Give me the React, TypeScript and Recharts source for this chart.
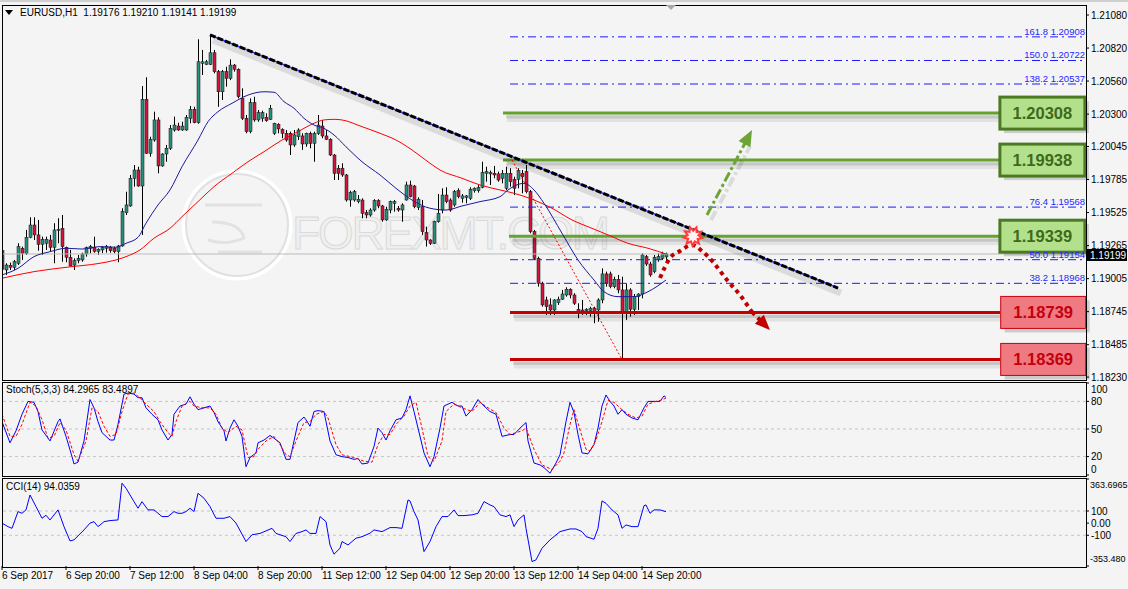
import React from 'react';
import { ComposedChart, Bar, Line, XAxis, YAxis, ReferenceLine, ReferenceDot } from 'recharts';

const FONT = '"Liberation Sans", Arial, Helvetica, sans-serif';
const WIDTH = 1128;
const BULL = '#25907e';
const BEAR = '#d3153d';
const X_DOMAIN: [number, number] = [0, 271];
const PRICE_DOMAIN: [number, number] = [1.18207, 1.21151];
const CCI_DOMAIN: [number, number] = [-353.48, 363.6965];

// EURUSD H1 candles, [open, high, low, close], 6 Sep 04:00 .. 15 Sep 02:00
const ohlc: number[][] = [
  [1.19225, 1.19231, 1.19073, 1.19079], [1.19073, 1.19126, 1.19034, 1.19112], [1.19110, 1.19131, 1.19073, 1.19094],
  [1.19094, 1.19152, 1.19073, 1.19138], [1.19126, 1.19283, 1.19112, 1.19257], [1.19244, 1.19257, 1.19152, 1.19205],
  [1.19205, 1.19388, 1.19191, 1.19330], [1.19330, 1.19488, 1.19323, 1.19427], [1.19427, 1.19488, 1.19309, 1.19349],
  [1.19349, 1.19467, 1.19225, 1.19275], [1.19275, 1.19335, 1.19191, 1.19315], [1.19283, 1.19335, 1.19231, 1.19315],
  [1.19309, 1.19349, 1.19217, 1.19252], [1.19252, 1.19441, 1.19126, 1.19388], [1.19388, 1.19480, 1.19283, 1.19393],
  [1.19401, 1.19506, 1.19138, 1.19257], [1.19252, 1.19257, 1.19134, 1.19173], [1.19173, 1.19231, 1.19099, 1.19105],
  [1.19112, 1.19165, 1.19073, 1.19146], [1.19146, 1.19191, 1.19126, 1.19165], [1.19152, 1.19209, 1.19138, 1.19199],
  [1.19199, 1.19257, 1.19178, 1.19249], [1.19244, 1.19270, 1.19205, 1.19257], [1.19252, 1.19335, 1.19209, 1.19220],
  [1.19220, 1.19244, 1.19191, 1.19236], [1.19231, 1.19262, 1.19205, 1.19252], [1.19244, 1.19270, 1.19209, 1.19257],
  [1.19252, 1.19262, 1.19209, 1.19225], [1.19244, 1.19257, 1.19205, 1.19217], [1.19217, 1.19270, 1.19134, 1.19262],
  [1.19262, 1.19559, 1.19257, 1.19532], [1.19524, 1.19689, 1.19506, 1.19585], [1.19577, 1.19821, 1.19571, 1.19795],
  [1.19795, 1.19899, 1.19729, 1.19860], [1.19860, 1.19886, 1.19729, 1.19734], [1.19734, 1.20521, 1.19349, 1.20417],
  [1.20417, 1.20590, 1.19986, 1.19992], [1.19992, 1.20122, 1.19965, 1.20102], [1.20096, 1.20319, 1.20083, 1.20254],
  [1.20254, 1.20275, 1.19834, 1.19892], [1.19892, 1.19992, 1.19886, 1.19986], [1.19986, 1.20057, 1.19925, 1.20031],
  [1.20031, 1.20214, 1.20018, 1.20188], [1.20175, 1.20280, 1.20162, 1.20214], [1.20206, 1.20232, 1.20169, 1.20175],
  [1.20175, 1.20240, 1.20169, 1.20206], [1.20175, 1.20293, 1.20169, 1.20275], [1.20267, 1.20364, 1.20228, 1.20338],
  [1.20338, 1.20358, 1.20228, 1.20232], [1.20232, 1.20889, 1.20224, 1.20712], [1.20700, 1.20805, 1.20608, 1.20712],
  [1.20692, 1.20726, 1.20686, 1.20712], [1.20692, 1.20923, 1.20686, 1.20783], [1.20783, 1.20805, 1.20621, 1.20634],
  [1.20634, 1.20647, 1.20358, 1.20476], [1.20476, 1.20647, 1.20411, 1.20634], [1.20634, 1.20673, 1.20516, 1.20582],
  [1.20582, 1.20731, 1.20568, 1.20686], [1.20686, 1.20694, 1.20634, 1.20653], [1.20653, 1.20660, 1.20424, 1.20437],
  [1.20424, 1.20503, 1.20254, 1.20267], [1.20267, 1.20293, 1.20149, 1.20162], [1.20162, 1.20424, 1.20149, 1.20390],
  [1.20390, 1.20437, 1.20240, 1.20254], [1.20254, 1.20332, 1.20240, 1.20311], [1.20267, 1.20327, 1.20240, 1.20311],
  [1.20275, 1.20306, 1.20240, 1.20248], [1.20259, 1.20372, 1.20254, 1.20346], [1.20149, 1.20232, 1.20136, 1.20228],
  [1.20220, 1.20228, 1.20149, 1.20183], [1.20180, 1.20188, 1.20110, 1.20149], [1.20149, 1.20175, 1.20083, 1.20096],
  [1.20149, 1.20162, 1.19978, 1.20057], [1.20057, 1.20175, 1.20043, 1.20136], [1.20122, 1.20188, 1.20096, 1.20175],
  [1.20128, 1.20149, 1.20018, 1.20065], [1.20065, 1.20154, 1.20043, 1.20149], [1.20149, 1.20162, 1.20031, 1.20070],
  [1.20070, 1.20162, 1.19925, 1.20149], [1.20149, 1.20293, 1.20136, 1.20214], [1.20206, 1.20254, 1.20110, 1.20128],
  [1.20128, 1.20175, 1.20096, 1.20102], [1.20102, 1.20110, 1.19970, 1.19978], [1.19978, 1.19986, 1.19781, 1.19834],
  [1.19874, 1.19899, 1.19781, 1.19834], [1.19874, 1.19913, 1.19807, 1.19821], [1.19821, 1.19829, 1.19611, 1.19624],
  [1.19624, 1.19697, 1.19571, 1.19682], [1.19624, 1.19703, 1.19611, 1.19689], [1.19611, 1.19663, 1.19598, 1.19630],
  [1.19624, 1.19637, 1.19480, 1.19519], [1.19524, 1.19545, 1.19480, 1.19506], [1.19506, 1.19559, 1.19493, 1.19545],
  [1.19545, 1.19630, 1.19532, 1.19619], [1.19619, 1.19630, 1.19559, 1.19577], [1.19577, 1.19585, 1.19453, 1.19467],
  [1.19467, 1.19571, 1.19461, 1.19551], [1.19545, 1.19619, 1.19519, 1.19611], [1.19598, 1.19624, 1.19532, 1.19611],
  [1.19559, 1.19577, 1.19532, 1.19545], [1.19545, 1.19598, 1.19453, 1.19585], [1.19624, 1.19768, 1.19619, 1.19742],
  [1.19742, 1.19776, 1.19645, 1.19650], [1.19734, 1.19742, 1.19559, 1.19571], [1.19566, 1.19645, 1.19545, 1.19630],
  [1.19571, 1.19624, 1.19349, 1.19375], [1.19367, 1.19414, 1.19257, 1.19309], [1.19309, 1.19315, 1.19270, 1.19283],
  [1.19283, 1.19461, 1.19278, 1.19453], [1.19453, 1.19671, 1.19445, 1.19519], [1.19545, 1.19716, 1.19519, 1.19663],
  [1.19663, 1.19724, 1.19598, 1.19611], [1.19624, 1.19637, 1.19532, 1.19545], [1.19585, 1.19703, 1.19571, 1.19689],
  [1.19697, 1.19716, 1.19637, 1.19650], [1.19637, 1.19671, 1.19603, 1.19656], [1.19645, 1.19663, 1.19598, 1.19656],
  [1.19637, 1.19724, 1.19624, 1.19708], [1.19697, 1.19724, 1.19682, 1.19716], [1.19697, 1.19742, 1.19682, 1.19724],
  [1.19724, 1.19925, 1.19716, 1.19839], [1.19834, 1.19886, 1.19768, 1.19847], [1.19829, 1.19855, 1.19742, 1.19839],
  [1.19834, 1.19892, 1.19795, 1.19821], [1.19829, 1.19847, 1.19768, 1.19781], [1.19795, 1.19860, 1.19755, 1.19834],
  [1.19716, 1.19886, 1.19703, 1.19834], [1.19834, 1.19874, 1.19729, 1.19768], [1.19787, 1.19807, 1.19663, 1.19716],
  [1.19787, 1.19874, 1.19716, 1.19855], [1.19834, 1.19860, 1.19677, 1.19807], [1.19847, 1.19899, 1.19677, 1.19689],
  [1.19689, 1.19703, 1.19362, 1.19375], [1.19375, 1.19388, 1.19152, 1.19165], [1.19165, 1.19178, 1.18942, 1.18968],
  [1.18968, 1.18981, 1.18784, 1.18798], [1.18837, 1.18863, 1.18719, 1.18784], [1.18798, 1.18850, 1.18719, 1.18758],
  [1.18758, 1.18843, 1.18719, 1.18837], [1.18816, 1.18863, 1.18798, 1.18843], [1.18843, 1.18916, 1.18837, 1.18884],
  [1.18876, 1.18937, 1.18863, 1.18921], [1.18921, 1.18929, 1.18850, 1.18876], [1.18876, 1.18890, 1.18798, 1.18811],
  [1.18764, 1.18811, 1.18693, 1.18745], [1.18758, 1.18837, 1.18719, 1.18745], [1.18753, 1.18772, 1.18719, 1.18764],
  [1.18753, 1.18784, 1.18706, 1.18772], [1.18772, 1.18784, 1.18654, 1.18745], [1.18758, 1.18850, 1.18666, 1.18837],
  [1.18837, 1.19086, 1.18811, 1.19042], [1.19042, 1.19060, 1.18942, 1.18968], [1.19042, 1.19060, 1.18929, 1.18942],
  [1.18942, 1.19020, 1.18929, 1.19000], [1.19000, 1.19034, 1.18890, 1.18916], [1.18916, 1.19020, 1.18369, 1.18745],
  [1.18745, 1.18968, 1.18680, 1.18916], [1.18916, 1.18929, 1.18706, 1.18764], [1.18764, 1.18884, 1.18719, 1.18863],
  [1.18863, 1.18890, 1.18758, 1.18884], [1.18884, 1.19205, 1.18850, 1.19191], [1.19178, 1.19191, 1.19105, 1.19120],
  [1.19120, 1.19138, 1.19020, 1.19034], [1.19060, 1.19191, 1.19047, 1.19173], [1.19157, 1.19205, 1.19138, 1.19178],
  [1.19165, 1.19217, 1.19152, 1.19205], [1.19176, 1.19210, 1.19141, 1.19199],
];

// moving averages, [bar, price]
const maFast = [
  [0, 1.19034], [4, 1.19086], [8, 1.19178], [12, 1.19217], [16, 1.19244], [20, 1.19238], [24.5, 1.19257],
  [28.5, 1.19252], [31, 1.19283], [34, 1.1933], [36, 1.19441], [39, 1.19585], [42, 1.19703], [45, 1.19886],
  [49, 1.20096], [51.5, 1.2024], [54, 1.20319], [57.5, 1.20385], [61.5, 1.2045], [65.5, 1.20476], [68, 1.20472],
  [70.5, 1.20398], [73, 1.20346], [75.5, 1.20267], [78, 1.20214], [80.5, 1.20188], [83, 1.20136], [86, 1.20043],
  [90, 1.19925], [94.5, 1.19821], [98.5, 1.19716], [102.5, 1.19624], [107, 1.19559], [111, 1.19545], [115, 1.19577],
  [119.5, 1.19611], [124.5, 1.1965], [126.5, 1.19703], [130.5, 1.19755], [133, 1.19703], [135.5, 1.19598],
  [140, 1.19362], [144, 1.19152], [148, 1.18994], [150.5, 1.18902], [154, 1.18863], [158, 1.18863],
  [161.5, 1.18902], [166, 1.18994],
];
const maSlow = [
  [0, 1.19008], [8, 1.1906], [16, 1.19094], [24.5, 1.19126], [28.5, 1.19152], [31, 1.19178], [34.5, 1.19231],
  [38, 1.19323], [42, 1.19401], [45, 1.19493], [49, 1.19611], [53, 1.19729], [57.5, 1.19834], [61.5, 1.19925],
  [65.5, 1.20004], [70, 1.20096], [74, 1.20162], [78, 1.20228], [80.5, 1.20254], [83, 1.20259], [85, 1.20254],
  [90, 1.20201], [94.5, 1.20149], [98.5, 1.20096], [102.5, 1.20018], [107, 1.19913], [109.5, 1.1986], [115, 1.19795],
  [119.5, 1.19742], [124.5, 1.19703], [128, 1.19677], [133, 1.19624], [137.5, 1.19559], [142.5, 1.19467],
  [147.5, 1.19401], [151.5, 1.19349], [156.5, 1.19283], [161.5, 1.19244], [166, 1.19199],
];

// Stochastic(5,3,3) main and signal, [bar, value]
const stochK = [
  [0, 58], [2, 35], [3.5, 48], [5, 66], [6.5, 80], [8, 79], [9, 69], [10, 49], [12, 37], [14, 58], [14.5, 61], [16, 42],
  [17.5, 20], [18, 12], [19, 14], [20.5, 37], [22, 82], [23, 73], [24, 58], [25, 46], [26, 42], [27, 38], [28, 38],
  [29, 55], [30.5, 88], [31.5, 89], [33, 88], [34, 84], [35, 84], [36, 73], [37.5, 66], [39, 60], [40, 49], [41.5, 38],
  [42.5, 44], [43, 66], [44.5, 75], [46, 77], [47, 85], [48, 77], [49, 71], [50.5, 73], [52, 75], [53, 68], [54, 58],
  [55.5, 48], [56, 37], [57, 51], [58, 60], [59, 53], [60, 42], [61, 9], [62, 19], [63.5, 24], [64, 35], [65.5, 38],
  [67, 43], [68, 40], [69.5, 35], [71, 17], [72, 17], [73, 37], [74, 57], [75.5, 63], [76, 60], [77, 53], [78, 69],
  [79, 70], [80.5, 69], [81, 58], [82, 37], [83.5, 22], [85, 20], [86.5, 19], [88, 17], [89, 18], [90, 12], [91.5, 13],
  [93, 31], [94, 51], [95, 46], [96, 38], [97, 48], [98.5, 60], [100, 62], [101, 71], [102, 86], [103, 69], [104, 51],
  [105.5, 24], [107, 9], [108, 20], [109.5, 51], [110.5, 75], [112.5, 79], [114, 75], [115, 75], [116, 64],
  [117.5, 71], [119, 82], [120.5, 75], [122, 69], [123.5, 66], [125, 42], [127, 44], [128, 44], [129.5, 51],
  [131, 57], [131.5, 37], [133, 13], [134.5, 11], [135.5, 8], [137, 2], [138.5, 13], [139.5, 22], [141, 58],
  [142, 79], [143, 68], [144, 44], [145, 24], [146.5, 23], [148, 33], [149, 51], [150, 75], [151, 87], [152, 80],
  [153, 75], [154, 66], [155, 71], [156, 66], [157.5, 62], [159, 60], [160.5, 73], [161.5, 80], [163, 80],
  [164.5, 80], [165.5, 86], [166, 84.3],
];
const stochD = [
  [0, 66], [2, 42], [3.5, 42], [5, 55], [7, 79], [8.5, 75], [10, 60], [11.5, 40], [13, 42], [14.5, 57], [16, 49],
  [18, 22], [19, 15], [21, 37], [22.5, 73], [24, 69], [25.5, 53], [27, 42], [28.5, 44], [30, 69], [31.5, 88], [33, 89],
  [35, 82], [36, 77], [38, 69], [39.5, 58], [41.5, 46], [42.5, 42], [43.5, 58], [45, 75], [47, 80], [48, 75], [50, 73],
  [52, 73], [53.5, 66], [55, 51], [56.5, 46], [58.5, 53], [60, 49], [61.5, 19], [63, 20], [64, 28], [66, 37], [68, 42],
  [69.5, 33], [71, 22], [72, 20], [73.5, 37], [75.5, 57], [77, 58], [78.5, 66], [80.5, 69], [81.5, 62], [83.5, 33],
  [85, 22], [88, 19], [90.5, 15], [92.5, 14], [94, 33], [95.5, 44], [97, 44], [98.5, 55], [100.5, 64], [102, 75],
  [103.5, 79], [105, 51], [106.5, 20], [108, 15], [110, 37], [111, 69], [113, 77], [115, 73], [117.5, 69],
  [119.5, 79], [121.5, 73], [123.5, 68], [125.5, 51], [127, 44], [130, 48], [131, 51], [133, 28], [135, 11],
  [137.5, 6], [139.5, 15], [140.5, 24], [142, 55], [143, 71], [144.5, 49], [146, 28], [147, 26], [148.5, 38],
  [150, 58], [151.5, 81], [153, 79], [155, 71], [156.5, 66], [158.5, 62], [160, 64], [161.5, 77], [163.5, 80],
  [164.5, 81], [166, 83.5],
];

// CCI(14), [bar, value]
const cci = [
  [0, 0], [1.5, -29], [2.5, -43], [4, 95], [5, 81], [6, 109], [7, 232], [8.5, 136], [10, 40], [11, 65], [12, 26],
  [14, 109], [15.5, -29], [17, -147], [18, -138], [20.5, -56], [22, 0], [23, 12], [24, -29], [25.5, 12], [27, 21],
  [29, 26], [30, 329], [31, 288], [33, 177], [34, 123], [35, 177], [36.5, 109], [38, 109], [40, 54], [41.5, 54],
  [43, 95], [44, 81], [45, 81], [46, 95], [47, 123], [48, 95], [49, 246], [50.5, 205], [52, 136], [53.5, 40],
  [55.5, 40], [57, 54], [58.5, 0], [61, -152], [62.5, -96], [64.5, -85], [67.5, -43], [68.5, -85], [71, -112],
  [72, -152], [73.5, -85], [75, -70], [76, -56], [77, -85], [78.5, -85], [79.5, 54], [81, 12], [82, -180], [83, -256],
  [84.5, -207], [85, -152], [86.5, -180], [88.5, -124], [90, -112], [92, -83], [93, -56], [95, -70], [97, -37],
  [98.5, -37], [100, -43], [101.5, 191], [102, 183], [103, 95], [104, 26], [105.5, -235], [107, -152], [108.5, -29],
  [110, 54], [111.5, 54], [113, 109], [114, 62], [115.5, 62], [117.5, 68], [119, 81], [120.5, 177], [122, 150],
  [123, 136], [124.5, 68], [126, 54], [127, 68], [128, -29], [129, 26], [130.5, 68], [131, -43], [132.5, -317],
  [133.5, -303], [135, -207], [137, -138], [139.5, -70], [142, -48], [143.5, -48], [145, -70], [146, -111],
  [148, -133], [149, -43], [150, 183], [151, 163], [152.5, 109], [154, 68], [155, -43], [156, -15], [157.5, -29],
  [159, -29], [160.5, 144], [161, 150], [162, 81], [163, 109], [164.5, 109], [166, 94],
];

const priceTicks = [1.1823, 1.18485, 1.18745, 1.19005, 1.19265, 1.19525, 1.19785, 1.20045, 1.203, 1.2056, 1.2082, 1.2108];
const stochTicks = [0, 20, 50, 80, 100];
const stochLevels = [80, 50, 20];
const cciTicks = [-353.48, -100, 0, 100, 363.6965];
const cciTickLabels = ['-353.480', '-100', '0.00', '100', '363.6965'];
const cciLevels = [100, -100];
const timeTickBars = [0, 16, 32, 48, 64, 80, 96, 112, 128, 144, 160];
const timeLabels = [
  '6 Sep 2017', '6 Sep 20:00', '7 Sep 12:00', '8 Sep 04:00', '8 Sep 20:00', '11 Sep 12:00',
  '12 Sep 04:00', '12 Sep 20:00', '13 Sep 12:00', '14 Sep 04:00', '14 Sep 20:00',
];

const resistance = [1.20308, 1.19938, 1.19339];
const support = [1.18739, 1.18369];
const fibRatios = ['161.8', '150.0', '138.2', '76.4', '50.0', '38.2'];
const fibPrices = [1.20908, 1.20722, 1.20537, 1.19568, 1.19154, 1.18968];
const lastPrice = 1.19199;
const trendline = [[52, 1.20923], [209, 1.18931]];
const fibBase = [[127.5, 1.19938], [155, 1.18369]];
const bullPath = [[176.25, 1.19506], [187.5, 1.20175]];
const bearPath = [
  [164.5, 1.1901], [167, 1.19167], [169.5, 1.19222], [172.5, 1.1927], [175.25, 1.19215],
  [177.75, 1.19136], [181.25, 1.18994], [184.5, 1.18876], [187.5, 1.18742],
];
const bearTip = [[187.5, 1.18742], [191.5, 1.18617]];
const breakout = [172.75, 1.19339];

const candleRows = ohlc.map(([o, h, l, c], i) => ({ i, o, h, l, c, range: [l, h] }));
const rows = (pts: number[][]) => pts.map(([i, v]) => ({ i, v }));
const seg = (pts: number[][]) => pts.map(([x, y]) => ({ x, y }));

function Candle(props: any) {
  const { x, y, width, height, payload } = props;
  if (x == null || !payload) return null;
  const { o, h, l, c } = payload;
  const top = Math.min(y, y + height);
  const hh = Math.abs(height);
  const py = (v: number) => top + ((h - v) / (h - l)) * hh;
  const cx = Math.round(x + width / 2);
  const bTop = py(Math.max(o, c));
  const bBot = py(Math.min(o, c));
  return (
    <g>
      <line x1={cx + 0.5} x2={cx + 0.5} y1={top} y2={top + hh} stroke="#000" strokeWidth={1} />
      <rect x={cx - 1} y={bTop} width={3} height={Math.max(1, bBot - bTop)}
        fill={c >= o ? BULL : BEAR} stroke="#111" strokeWidth={0.5} />
    </g>
  );
}

function arrowHead(x1: number, y1: number, x2: number, y2: number, size: number, color: string) {
  const a = Math.atan2(y2 - y1, x2 - x1);
  const bx = x2 - size * Math.cos(a);
  const by = y2 - size * Math.sin(a);
  const px = -Math.sin(a) * size * 0.42;
  const py = Math.cos(a) * size * 0.42;
  return <polygon points={`${x2},${y2} ${bx + px},${by + py} ${bx - px},${by - py}`} fill={color} />;
}

const levelLine = (color: string) => (p: any) => (
  <g>
    <line x1={p.x1 + 4} y1={p.y1 + 5} x2={p.x2 + 4} y2={p.y2 + 5} stroke="rgba(0,0,0,0.07)" strokeWidth={8} />
    <line x1={p.x1 + 3} y1={p.y1 + 4} x2={p.x2 + 3} y2={p.y2 + 4} stroke="rgba(0,0,0,0.12)" strokeWidth={3} />
    <line x1={p.x1} y1={p.y1} x2={p.x2} y2={p.y2} stroke={color} strokeWidth={3} />
  </g>
);

function TrendShape(p: any) {
  return (
    <g>
      <line x1={p.x1 + 3} y1={p.y1 + 5} x2={p.x2 + 3} y2={p.y2 + 5} stroke="rgba(0,0,0,0.1)" strokeWidth={7} />
      <line x1={p.x1} y1={p.y1} x2={p.x2} y2={p.y2} stroke="#2a2aff" strokeWidth={1.5} />
      <line x1={p.x1} y1={p.y1} x2={p.x2} y2={p.y2} stroke="#000" strokeWidth={3} strokeDasharray="6 2" />
    </g>
  );
}

function BullArrow(p: any) {
  const a = Math.atan2(p.y2 - p.y1, p.x2 - p.x1);
  const ex = p.x2 - 13 * Math.cos(a);
  const ey = p.y2 - 13 * Math.sin(a);
  return (
    <g>
      <line x1={p.x1 + 4} y1={p.y1 + 5} x2={ex + 4} y2={ey + 5} stroke="rgba(0,0,0,0.1)" strokeWidth={4} strokeDasharray="10 3 3 3" />
      <line x1={p.x1} y1={p.y1} x2={ex} y2={ey} stroke="#6aa535" strokeWidth={3} strokeDasharray="10 3 3 3" />
      {arrowHead(p.x1, p.y1, p.x2, p.y2, 16, '#6aa535')}
    </g>
  );
}

function BearArrow(p: any) {
  return (
    <g>
      <line x1={p.x1} y1={p.y1} x2={p.x2 - 6} y2={p.y2 - 6} stroke="#c00000" strokeWidth={4} strokeDasharray="4 4" />
      {arrowHead(p.x1, p.y1, p.x2 + 2, p.y2 + 2, 15, '#c00000')}
    </g>
  );
}

function Burst(p: any) {
  const { cx, cy } = p;
  const star = (ro: number, ri: number) => {
    const pts: string[] = [];
    for (let k = 0; k < 18; k++) {
      const r = k % 2 === 0 ? ro : ri;
      const a = (Math.PI * 2 * k) / 18 + 0.2;
      pts.push(`${cx + r * Math.cos(a)},${cy + r * Math.sin(a)}`);
    }
    return pts.join(' ');
  };
  return (
    <g>
      <polygon points={star(12, 7)} fill="#ff3b3b" />
      <polygon points={star(7, 4)} fill="#fff2f2" />
    </g>
  );
}

function LevelBox(p: any) {
  const { cx, cy, value, up } = p;
  const w = 85;
  const h = 32;
  const x = cx - w / 2;
  const y = cy - h / 2;
  return (
    <g>
      <rect x={x + 4} y={y + 4} width={w} height={h} fill="rgba(0,0,0,0.16)" />
      <rect x={x} y={y} width={w} height={h} fill={up ? '#b3e08a' : '#ef7a82'}
        stroke={up ? '#4b7a22' : '#c8000e'} strokeWidth={up ? 3 : 1} />
      <text x={cx} y={cy} dy="0.36em" textAnchor="middle" fontFamily={FONT} fontWeight="bold" fontSize={16.5}
        fill={up ? '#3e6a1b' : '#c3000d'}>{value.toFixed(5)}</text>
    </g>
  );
}

function FibLabel(p: any) {
  const { cx, cy, ratio, price } = p;
  return (
    <g fontFamily={FONT} fontSize={9.5} fill="#1f1fff">
      <text x={cx - 37} y={cy - 2} textAnchor="end">{ratio}</text>
      <text x={cx} y={cy - 2} textAnchor="end">{price.toFixed(5)}</text>
    </g>
  );
}

function PriceTag(p: any) {
  const { cx, cy } = p;
  return (
    <g>
      <rect x={cx + 1} y={cy - 5} width={40} height={12} fill="#000" />
      <text x={cx + 4} y={cy + 1} dy="0.36em" fontFamily={FONT} fontSize={10} fill="#fff">{lastPrice.toFixed(5)}</text>
    </g>
  );
}

function StochTick(p: any) {
  const v = p.payload.value;
  const dy = v === 100 ? 6 : v === 0 ? -6 : 0;
  return (
    <text x={p.x} y={p.y + dy} dy="0.36em" textAnchor="start" fontFamily={FONT} fontSize={10} fill="#000">{v}</text>
  );
}

function CciTick(p: any) {
  const idx = cciTicks.indexOf(p.payload.value);
  const edge = idx === 0 || idx === 4;
  const dy = idx === 4 ? 6 : idx === 0 ? -7 : 0;
  return (
    <text x={edge ? p.x - 1 : p.x} y={p.y + dy} dy="0.36em" textAnchor="start" fontFamily={FONT}
      fontSize={edge ? 9 : 10} fill="#000">
      {cciTickLabels[idx]}
    </text>
  );
}

function TimeTick(p: any) {
  const idx = timeTickBars.indexOf(p.payload.value);
  return (
    <text x={p.x} y={p.y + 1} dy="0.71em" textAnchor="start" fontFamily={FONT} fontSize={10} fill="#000">
      {timeLabels[idx]}
    </text>
  );
}

const axisText = { fontFamily: FONT, fontSize: 10, fill: '#000' };

function PriceChart() {
  return (
    <ComposedChart width={WIDTH} height={382} data={candleRows} margin={{ top: 6, right: 0, bottom: 2, left: 2 }}>
      <XAxis dataKey="i" type="number" domain={X_DOMAIN} allowDataOverflow hide />
      <YAxis orientation="right" type="number" domain={PRICE_DOMAIN} allowDataOverflow ticks={priceTicks}
        interval={0} width={42} axisLine={false} tickSize={3} tickMargin={2} tickLine={{ stroke: '#000' }}
        tick={axisText} tickFormatter={(v: number) => v.toFixed(5)} />
      <ReferenceLine y={lastPrice} stroke="#bcbcbc" strokeWidth={1} />
      {fibPrices.map((p) => (
        <ReferenceLine key={`f${p}`} segment={[{ x: 127, y: p }, { x: 270.75, y: p }]} stroke="#1a1aff"
          strokeWidth={1} strokeDasharray="8 4 2 4" />
      ))}
      {resistance.map((p, k) => (
        <ReferenceLine key={`r${p}`} segment={[{ x: k < 2 ? 125.25 : 126.75, y: p }, { x: 249.5, y: p }]}
          shape={levelLine('#66a22e')} />
      ))}
      {support.map((p) => (
        <ReferenceLine key={`s${p}`} segment={[{ x: 127, y: p }, { x: 249.5, y: p }]} shape={levelLine('#c40000')} />
      ))}
      <ReferenceLine segment={seg(fibBase)} stroke="#ff0000" strokeWidth={1} strokeDasharray="2 2" />
      <Bar dataKey="range" barSize={3} isAnimationActive={false} shape={(p: any) => <Candle {...p} />} />
      <Line data={rows(maSlow)} dataKey="v" type="monotone" stroke="#ff0000" strokeWidth={1} dot={false}
        isAnimationActive={false} />
      <Line data={rows(maFast)} dataKey="v" type="monotone" stroke="#1a1a9c" strokeWidth={1} dot={false}
        isAnimationActive={false} />
      <ReferenceLine segment={seg(trendline)} shape={TrendShape} />
      <ReferenceLine segment={seg(bullPath)} shape={BullArrow} />
      <Line data={rows(bearPath)} dataKey="v" type="monotone" stroke="#c00000" strokeWidth={4}
        strokeDasharray="4 4" dot={false} isAnimationActive={false} />
      <ReferenceLine segment={seg(bearTip)} shape={BearArrow} />
      <ReferenceDot x={breakout[0]} y={breakout[1]} shape={(p: any) => <Burst {...p} />} />
      {resistance.map((p) => (
        <ReferenceDot key={`rb${p}`} x={260.1} y={p} shape={(q: any) => <LevelBox {...q} value={p} up />} />
      ))}
      {support.map((p) => (
        <ReferenceDot key={`sb${p}`} x={260.3} y={p} shape={(q: any) => <LevelBox {...q} value={p} up={false} />} />
      ))}
      {fibPrices.map((p, k) => (
        <ReferenceDot key={`fl${p}`} x={270.75} y={p}
          shape={(q: any) => <FibLabel {...q} ratio={fibRatios[k]} price={p} />} />
      ))}
      <ReferenceDot x={271} y={lastPrice} shape={(q: any) => <PriceTag {...q} />} />
    </ComposedChart>
  );
}

function StochChart() {
  return (
    <ComposedChart width={WIDTH} height={96} margin={{ top: 2, right: 0, bottom: 2, left: 2 }}>
      <XAxis dataKey="i" type="number" domain={X_DOMAIN} allowDataOverflow hide />
      <YAxis orientation="right" type="number" domain={[0, 100]} allowDataOverflow ticks={stochTicks} interval={0}
        width={42} axisLine={false} tickSize={3} tickMargin={2} tickLine={{ stroke: '#000' }}
        tick={(p: any) => <StochTick {...p} />} />
      {stochLevels.map((v) => (
        <ReferenceLine key={v} y={v} stroke="#c4c4c4" strokeDasharray="3 3" />
      ))}
      <Line data={rows(stochK)} dataKey="v" type="linear" stroke="#0000ff" strokeWidth={1} dot={false}
        isAnimationActive={false} />
      <Line data={rows(stochD)} dataKey="v" type="linear" stroke="#ff0000" strokeWidth={1} strokeDasharray="3 2"
        dot={false} isAnimationActive={false} />
    </ComposedChart>
  );
}

function CciChart() {
  return (
    <ComposedChart width={WIDTH} height={112} margin={{ top: 2, right: 0, bottom: 0, left: 2 }}>
      <XAxis dataKey="i" type="number" domain={X_DOMAIN} allowDataOverflow ticks={timeTickBars} interval={0}
        height={23} axisLine={false} tickSize={4} tickMargin={1} tickLine={{ stroke: '#000' }}
        tick={(p: any) => <TimeTick {...p} />} />
      <YAxis orientation="right" type="number" domain={CCI_DOMAIN} allowDataOverflow ticks={cciTicks} interval={0}
        width={42} axisLine={false} tickSize={3} tickMargin={2} tickLine={{ stroke: '#000' }}
        tick={(p: any) => <CciTick {...p} />} />
      {cciLevels.map((v) => (
        <ReferenceLine key={v} y={v} stroke="#c4c4c4" strokeDasharray="3 3" />
      ))}
      <Line data={rows(cci)} dataKey="v" type="linear" stroke="#0000ff" strokeWidth={1} dot={false}
        isAnimationActive={false} />
    </ComposedChart>
  );
}

function Watermark() {
  return (
    <svg width={WIDTH} height={589} style={{ position: 'absolute', left: 0, top: 0 }}>
      <circle cx={237} cy={225} r={53} fill="none" stroke="#ffffff" strokeWidth={5} />
      <circle cx={237} cy={225} r={51} fill="none" stroke="#e0e0e0" strokeWidth={2} />
      <path d="M205 205 H262 M212 222 Q240 222 244 238 Q226 246 208 240 M218 252 H262" fill="none"
        stroke="#e2e2e2" strokeWidth={3} />
      <text x={292} y={249} fontFamily={FONT} fontSize={46} textLength={318} fill="#efefef" stroke="#dadada"
        strokeWidth={1}>FOREXMT.COM</text>
    </svg>
  );
}

const frame = (top: number, height: number): React.CSSProperties => ({
  position: 'absolute', left: 2, top, width: 1085, height, border: '1px solid #000', boxSizing: 'border-box',
  pointerEvents: 'none',
});

export default function App() {
  return (
    <div style={{ position: 'absolute', left: 0, top: 0, width: WIDTH, height: 589, background: '#f4f4f4',
      overflow: 'hidden', fontFamily: FONT }}>
      <div style={{ position: 'absolute', left: 0, top: 0, width: WIDTH, height: 2, background: '#cfcfcf' }} />
      <Watermark />
      <div style={{ position: 'absolute', left: 0, top: 0 }}><PriceChart /></div>
      <div style={{ position: 'absolute', left: 0, top: 381 }}><StochChart /></div>
      <div style={{ position: 'absolute', left: 0, top: 477 }}><CciChart /></div>
      <div style={frame(5, 376)} />
      <div style={frame(382, 95)} />
      <div style={frame(478, 90)} />
      <svg width={20} height={10} style={{ position: 'absolute', left: 661, top: 4 }}>
        <polygon points="5,1 15,1 10,6" fill="#a8a8a8" />
      </svg>
      <div style={{ position: 'absolute', left: 5, top: 7, fontSize: 10, color: '#000', whiteSpace: 'pre',
        display: 'flex', alignItems: 'center' }}>
        <svg width={10} height={8} style={{ marginRight: 5 }}><polygon points="0,1 8,1 4,6" fill="#000" /></svg>
        {'EURUSD,H1  1.19176 1.19210 1.19141 1.19199'}
      </div>
      <div style={{ position: 'absolute', left: 6, top: 384, fontSize: 10, color: '#000', whiteSpace: 'pre' }}>
        Stoch(5,3,3) 84.2965 83.4897
      </div>
      <div style={{ position: 'absolute', left: 6, top: 481, fontSize: 10, color: '#000', whiteSpace: 'pre' }}>
        CCI(14) 94.0359
      </div>
    </div>
  );
}
